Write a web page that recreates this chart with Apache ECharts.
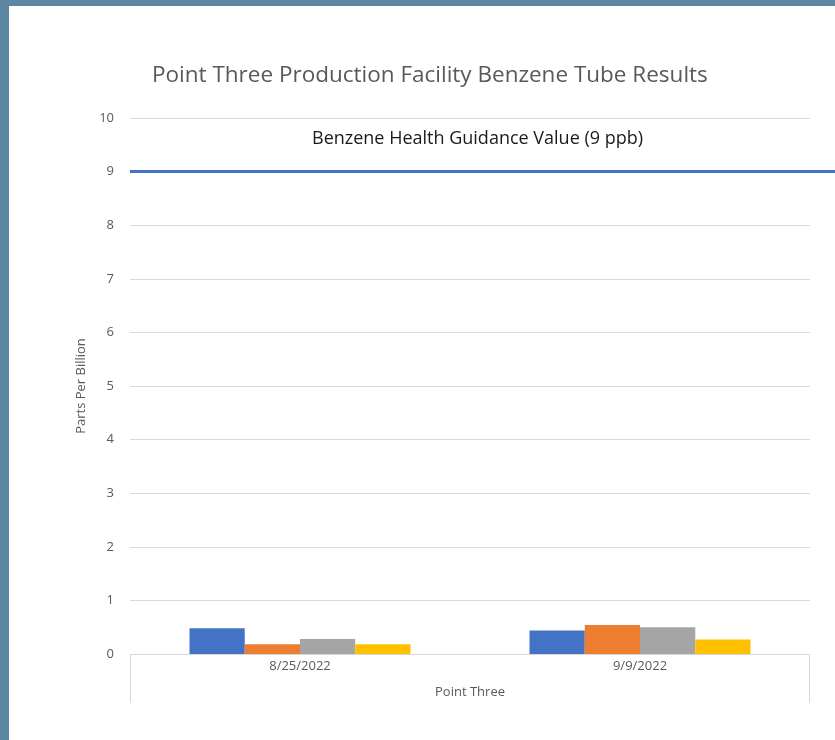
<!DOCTYPE html>
<html>
<head>
<meta charset="utf-8">
<script src="https://cdn.jsdelivr.net/npm/echarts@6/dist/echarts.min.js"></script>
<style>
html,body{margin:0;padding:0;background:#5b87a3;width:835px;height:740px;overflow:hidden;}
#chart{position:absolute;left:9px;top:6px;width:826px;height:734px;background:#ffffff;}
</style>
</head>
<body>
<div id="chart"></div>
<script>
const categories = ['8/25/2022', '9/9/2022'];
const seriesNames = ['Tube 1', 'Tube 2', 'Tube 3', 'Tube 4'];
const tube1 = [0.48, 0.44];
const tube2 = [0.18, 0.54];
const tube3 = [0.28, 0.50];
const tube4 = [0.18, 0.27];
const guidanceValue = [9, 9];
const yTicks = [0, 1, 2, 3, 4, 5, 6, 7, 8, 9, 10];
const titleText = 'Point Three Production Facility Benzene Tube Results';
const guidanceText = 'Benzene Health Guidance Value (9 ppb)';
const xAxisName = 'Point Three';
const yAxisName = 'Parts Per Billion';

const colors = ['#4472C4', '#ED7D31', '#A5A5A5', '#FFC000'];
const values = [tube1, tube2, tube3, tube4];
const FONT = 'Open Sans';
const SMALL = 13;

const chart = echarts.init(document.getElementById('chart'), null, {renderer: 'canvas'});
const option = {
  animation: false,
  backgroundColor: '#ffffff',
  title: [
    {text: titleText, left: 138, top: 53,
     textStyle: {fontFamily: FONT, fontSize: 22.5, fontWeight: 'normal', color: '#595959'}},
    {text: guidanceText, left: 298, top: 119,
     textStyle: {fontFamily: FONT, fontSize: 18, fontWeight: 'normal', color: '#1a1a1a'}}
  ],
  grid: [
    {left: 121, right: 25, top: 112, bottom: 86},
    {left: 121, right: 0, top: 112, bottom: 86}
  ],
  xAxis: [
    {type: 'category', gridIndex: 0, data: categories,
     axisLine: {show: true, lineStyle: {color: '#d9d9d9', width: 1}},
     axisTick: {show: false},
     axisLabel: {fontFamily: FONT, fontSize: SMALL, color: '#595959', margin: 6},
     name: xAxisName, nameLocation: 'middle', nameGap: 32,
     nameTextStyle: {fontFamily: FONT, fontSize: SMALL, color: '#595959'}},
    {type: 'value', gridIndex: 1, min: 0, max: 1, show: false}
  ],
  yAxis: [
    {type: 'value', gridIndex: 0, min: 0, max: 10, interval: 1,
     axisLine: {show: false}, axisTick: {show: false},
     axisLabel: {fontFamily: FONT, fontSize: SMALL, color: '#595959', margin: 16,
       formatter: v => yTicks.includes(v) ? String(v) : ''},
     splitLine: {show: true, lineStyle: {color: '#d9d9d9', width: 1}},
     name: yAxisName, nameLocation: 'middle', nameGap: 42, nameRotate: 90,
     nameTextStyle: {fontFamily: FONT, fontSize: SMALL, color: '#595959'}},
    {type: 'value', gridIndex: 1, min: 0, max: 10, show: false}
  ],
  series: seriesNames.map((n, i) => ({
    name: n, type: 'bar', xAxisIndex: 0, yAxisIndex: 0,
    data: values[i], barGap: '0%', barCategoryGap: '35%',
    itemStyle: {color: colors[i]}
  })).concat([{
    name: 'Guidance', type: 'line', xAxisIndex: 1, yAxisIndex: 1,
    data: guidanceValue.map((v, i) => [i, v]),
    symbol: 'none', lineStyle: {color: '#4472C4', width: 3}, z: 5
  }])
};
chart.setOption(option);

// Excel-style multi-level category box edges
const gridModel = chart.getModel().getComponent('grid', 0);
const rect = gridModel.coordinateSystem.getRect();
chart.setOption({
  graphic: [
    {type: 'line', shape: {x1: rect.x + 0.5, y1: rect.y + rect.height, x2: rect.x + 0.5, y2: rect.y + rect.height + 49},
     style: {stroke: '#d9d9d9', lineWidth: 1}},
    {type: 'line', shape: {x1: rect.x + rect.width - 0.5, y1: rect.y + rect.height, x2: rect.x + rect.width - 0.5, y2: rect.y + rect.height + 49},
     style: {stroke: '#d9d9d9', lineWidth: 1}}
  ]
});
</script>
</body>
</html>
